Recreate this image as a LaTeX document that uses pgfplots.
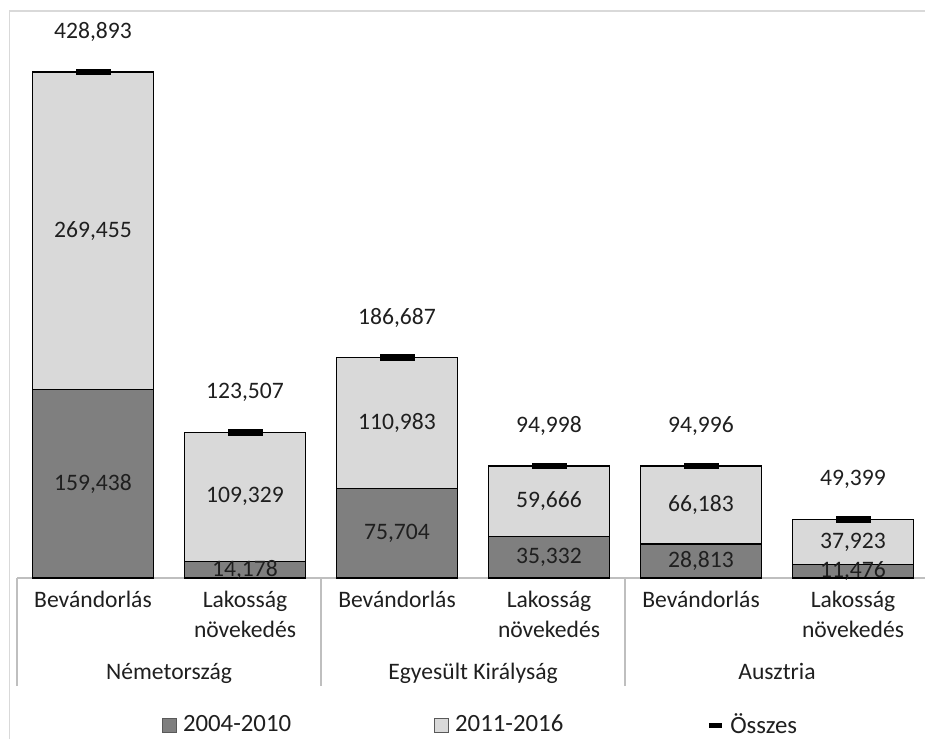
\documentclass[border=0pt]{standalone}
\usepackage{pgfplots}
\usepackage{pgfplotstable}
\pgfplotsset{compat=1.18}
\usepackage{fontspec}
\setmainfont{Carlito}
\definecolor{darkbar}{HTML}{7F7F7F}
\definecolor{lightbar}{HTML}{D9D9D9}
\definecolor{axgray}{HTML}{BFBFBF}
\definecolor{txt}{HTML}{1F1F1F}
% x: category position; a: 2004-2010; b: 2011-2016; t: total (Összes)
\pgfplotstableread{
x a b t
0 159438 269455 428893
1 14178 109329 123507
2 75704 110983 186687
3 35332 59666 94998
4 28813 66183 94996
5 11476 37923 49399
}\datatable
\begin{document}
\begin{tikzpicture}[font=\fontsize{11.8}{15}\selectfont]
\path[use as bounding box] (0,0) rectangle (462.5pt,369.5pt);
\draw[black!15, line width=0.6pt] (4.75pt,0pt) |- (462.5pt,364pt);
\begin{axis}[
  at={(8.5pt,80.5pt)}, anchor=south west,
  scale only axis, width=456pt, height=283.15pt,
  xmin=-0.5, xmax=5.5, ymin=0, ymax=480000,
  clip=false,
  ybar stacked, bar width=60.5pt,
  hide y axis, axis x line*=bottom,
  x axis line style={draw=axgray, line width=0.6pt},
  tick style={draw=axgray, line width=0.6pt},
  xtick={0,...,5}, major tick length=0pt,
  xticklabels={Bevándorlás, {Lakosság\\növekedés}, Bevándorlás, {Lakosság\\növekedés}, Bevándorlás, {Lakosság\\növekedés}},
  xticklabel style={align=center, text=txt, yshift=-3pt},
  extra x ticks={-0.5,1.5,3.5,5.5}, extra x tick labels={},
  extra x tick style={major tick length=54pt, tick align=outside},
  legend style={draw=none, fill=none, legend columns=3, at={(0.159,-0.2597)}, anchor=west,
    inner sep=0pt, outer sep=0pt, font=\fontsize{12.4}{15}\selectfont,
    /tikz/every odd column/.append style={column sep=3pt},
    /tikz/every even column/.append style={column sep=71.5pt},
    nodes={inner sep=0pt, text=txt}},
  legend cell align=left,
]
\addplot[fill=darkbar, draw=black, line width=0.6pt,
  legend image code/.code={\draw[fill=darkbar, draw=black!65, line width=0.5pt] (0pt,-3.5pt) rectangle (7pt,3.5pt);}]
  table[x=x, y=a] {\datatable};
\addlegendentry{2004-2010}
\addplot[fill=lightbar, draw=black, line width=0.6pt,
  legend image code/.code={\draw[fill=lightbar, draw=black!65, line width=0.5pt] (0pt,-3.5pt) rectangle (7pt,3.5pt);}]
  table[x=x, y=b] {\datatable};
\addlegendentry{2011-2016}
\addlegendimage{legend image code/.code={\draw[black, line width=2.5pt] (0pt,0pt) -- (6.5pt,0pt);}}
\addlegendentry{Összes}
\node[anchor=base, text=txt] at (axis cs:0.5,0) [yshift=-50.75pt] {Németország};
\node[anchor=base, text=txt] at (axis cs:2.5,0) [yshift=-50.75pt] {Egyesült Királyság};
\node[anchor=base, text=txt] at (axis cs:4.5,0) [yshift=-50.75pt] {Ausztria};
\end{axis}
\begin{axis}[
  at={(8.5pt,80.5pt)}, anchor=south west,
  scale only axis, width=456pt, height=283.15pt,
  xmin=-0.5, xmax=5.5, ymin=0, ymax=480000,
  hide axis, clip=false,
  /pgf/number format/.cd, fixed, precision=0, 1000 sep={,}, assume math mode=true,
  /pgfplots/.cd,
]
% totals marker and labels
\addplot[only marks, mark=-, mark size=8.75pt, mark options={line width=3.25pt, black},
  nodes near coords, point meta=\thisrow{t},
  every node near coord/.style={anchor=center, yshift=20pt, text=txt}]
  table[x=x, y=t] {\datatable};
% segment labels, centred in each segment
\addplot[draw=none, mark=none, nodes near coords, point meta=\thisrow{a},
  every node near coord/.style={anchor=center, text=txt}]
  table[x=x, y expr=0.5*\thisrow{a}] {\datatable};
\addplot[draw=none, mark=none, nodes near coords, point meta=\thisrow{b},
  every node near coord/.style={anchor=center, text=txt}]
  table[x=x, y expr=\thisrow{a}+0.5*\thisrow{b}] {\datatable};
\end{axis}
\end{tikzpicture}
\end{document}
